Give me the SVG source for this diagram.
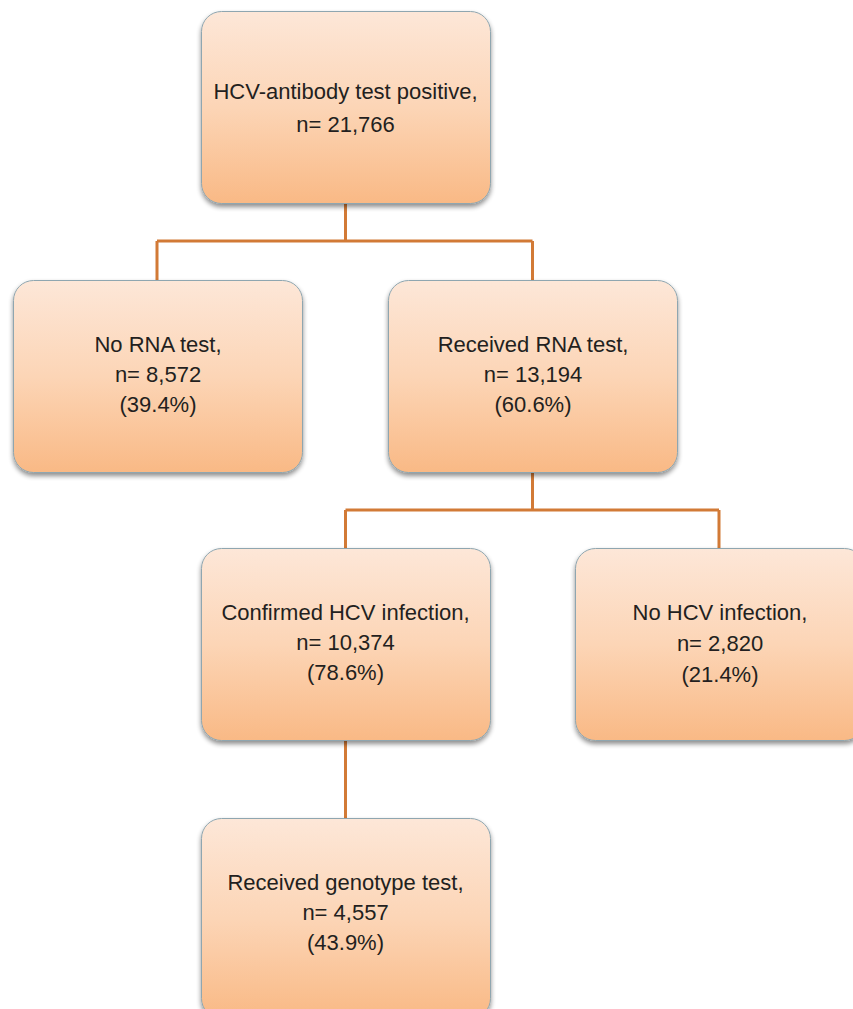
<svg xmlns="http://www.w3.org/2000/svg" width="853" height="1009" viewBox="0 0 853 1009">
<defs>
<linearGradient id="g" x1="0" y1="0" x2="0" y2="1">
<stop offset="0" stop-color="#fde7d8"/>
<stop offset="0.5" stop-color="#fcd5b6"/>
<stop offset="1" stop-color="#f9b985"/>
</linearGradient>
<filter id="sh" x="-10%" y="-10%" width="120%" height="125%">
<feGaussianBlur in="SourceAlpha" stdDeviation="2.5"/>
<feOffset dx="0" dy="3" result="b"/>
<feComponentTransfer><feFuncA type="linear" slope="0.45"/></feComponentTransfer>
<feMerge><feMergeNode/><feMergeNode in="SourceGraphic"/></feMerge>
</filter>
</defs>
<style>
.box{fill:url(#g);stroke:#8fa6b0;stroke-width:1;filter:url(#sh)}
.t{font-family:"Liberation Sans",Arial,sans-serif;font-size:22px;fill:#231f20;text-anchor:middle}
.c{fill:none;stroke:#d27a36;stroke-width:3}
</style>
<rect width="853" height="1009" fill="#fff"/>
<g id="connectors">
<path class="c" d="M345.5 203 V241 M157 241 H532.5 M157 241 V280 M532.5 241 V280"/>
<path class="c" d="M532.5 472 V510 M345.5 510 H719 M345.5 510 V548 M719 510 V548"/>
<path class="c" d="M345.5 740 V818"/>
</g>
<g id="n1">
<rect class="box" x="201.5" y="11.5" width="289" height="192" rx="20"/>
<text class="t" x="345.5" y="99">HCV-antibody test positive,</text>
<text class="t" x="345.5" y="132">n= 21,766</text>
</g>
<g id="n2">
<rect class="box" x="13.5" y="280.5" width="289" height="192" rx="20"/>
<text class="t" x="158" y="352">No RNA test,</text>
<text class="t" x="158" y="382">n= 8,572</text>
<text class="t" x="158" y="412">(39.4%)</text>
</g>
<g id="n3">
<rect class="box" x="388.5" y="280.5" width="289" height="192" rx="20"/>
<text class="t" x="533" y="352">Received RNA test,</text>
<text class="t" x="533" y="382">n= 13,194</text>
<text class="t" x="533" y="412">(60.6%)</text>
</g>
<g id="n4">
<rect class="box" x="201.5" y="548.5" width="289" height="192" rx="20"/>
<text class="t" x="345.5" y="620">Confirmed HCV infection,</text>
<text class="t" x="345.5" y="650">n= 10,374</text>
<text class="t" x="345.5" y="680">(78.6%)</text>
</g>
<g id="n5">
<rect class="box" x="575.5" y="548.5" width="289" height="192" rx="20"/>
<text class="t" x="720" y="620">No HCV infection,</text>
<text class="t" x="720" y="651">n= 2,820</text>
<text class="t" x="720" y="682">(21.4%)</text>
</g>
<g id="n6">
<rect class="box" x="201.5" y="818.5" width="289" height="200" rx="20"/>
<text class="t" x="345.5" y="890">Received genotype test,</text>
<text class="t" x="345.5" y="920">n= 4,557</text>
<text class="t" x="345.5" y="950">(43.9%)</text>
</g>
</svg>
